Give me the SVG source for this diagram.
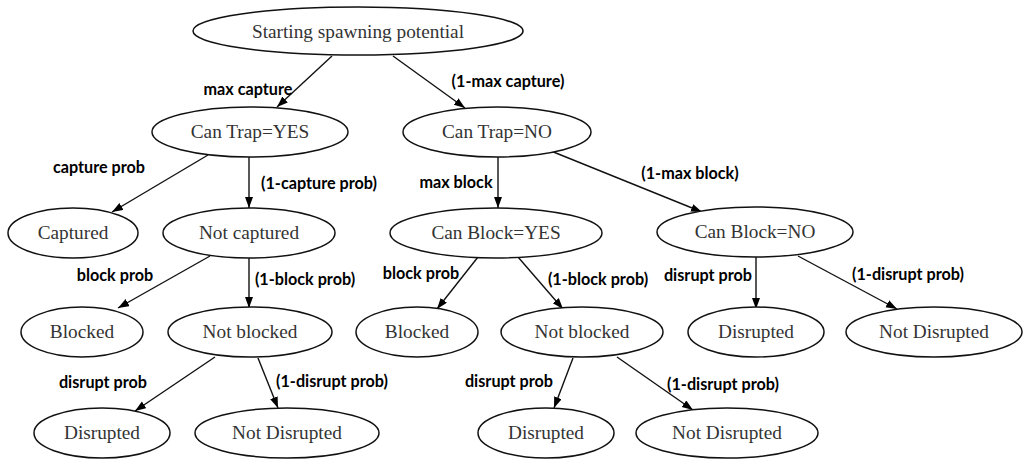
<svg xmlns="http://www.w3.org/2000/svg" width="1031" height="459" viewBox="0 0 1031 459">
<style>
.n ellipse{fill:#fff;stroke:#111;stroke-width:1.5}
.n text{font-family:"Liberation Serif","Times New Roman",serif;font-size:19.3px;fill:#333;text-anchor:middle}
.e line{stroke:#111;stroke-width:1.4;marker-end:url(#ah)}
.l{font-family:Lato,"Liberation Sans",sans-serif;font-weight:bold;font-size:16.2px;fill:#000;text-anchor:middle;dominant-baseline:central}
</style>
<defs>
<marker id="ah" markerUnits="userSpaceOnUse" markerWidth="12" markerHeight="10" refX="11" refY="4" orient="auto">
<path d="M0,0 L11,4 L0,8 z" fill="#000"/>
</marker>
</defs>
<rect width="1031" height="459" fill="#fff"/>
<g class="e" id="edges">
<line x1="332" y1="56" x2="277" y2="107"/>
<line x1="393" y1="56" x2="465" y2="108"/>
<line x1="208" y1="155" x2="112" y2="212"/>
<line x1="249" y1="157" x2="249" y2="208"/>
<line x1="498" y1="157" x2="498" y2="208"/>
<line x1="551" y1="151" x2="702" y2="212"/>
<line x1="210" y1="256" x2="118" y2="308"/>
<line x1="249" y1="258" x2="249" y2="308"/>
<line x1="478" y1="257" x2="437" y2="309"/>
<line x1="518" y1="257" x2="563" y2="309"/>
<line x1="756" y1="257" x2="756" y2="309"/>
<line x1="798" y1="256" x2="897" y2="309"/>
<line x1="215" y1="357" x2="135" y2="411"/>
<line x1="258" y1="358" x2="278" y2="408"/>
<line x1="573" y1="358" x2="554" y2="408"/>
<line x1="617" y1="357" x2="693" y2="410"/>
</g>
<g id="labels">
<text class="l" x="248" y="88">max capture</text>
<text class="l" x="508" y="80">(1-max capture)</text>
<text class="l" x="99" y="166">capture prob</text>
<text class="l" x="319" y="182">(1-capture prob)</text>
<text class="l" x="456" y="181">max block</text>
<text class="l" x="690" y="172">(1-max block)</text>
<text class="l" x="115" y="274">block prob</text>
<text class="l" x="305" y="278">(1-block prob)</text>
<text class="l" x="421" y="272">block prob</text>
<text class="l" x="598" y="278">(1-block prob)</text>
<text class="l" x="708" y="274">disrupt prob</text>
<text class="l" x="908" y="273">(1-disrupt prob)</text>
<text class="l" x="103" y="381">disrupt prob</text>
<text class="l" x="332" y="380">(1-disrupt prob)</text>
<text class="l" x="509" y="380">disrupt prob</text>
<text class="l" x="723" y="383">(1-disrupt prob)</text>
</g>
<g class="n" id="n-root"><ellipse cx="358" cy="31" rx="165" ry="24"/><text x="358" y="38">Starting spawning potential</text></g>
<g class="n" id="n-trapyes"><ellipse cx="250" cy="132" rx="98" ry="25"/><text x="250" y="138">Can Trap=YES</text></g>
<g class="n" id="n-trapno"><ellipse cx="497" cy="132" rx="94" ry="25"/><text x="497" y="138">Can Trap=NO</text></g>
<g class="n" id="n-captured"><ellipse cx="73" cy="233" rx="65" ry="25"/><text x="73" y="239">Captured</text></g>
<g class="n" id="n-notcaptured"><ellipse cx="249" cy="233" rx="86" ry="25"/><text x="249" y="239">Not captured</text></g>
<g class="n" id="n-blockyes"><ellipse cx="496" cy="233" rx="106" ry="25"/><text x="496" y="239">Can Block=YES</text></g>
<g class="n" id="n-blockno"><ellipse cx="755" cy="232" rx="98" ry="25"/><text x="755" y="238">Can Block=NO</text></g>
<g class="n" id="n-blocked1"><ellipse cx="82" cy="332" rx="61" ry="25"/><text x="82" y="338">Blocked</text></g>
<g class="n" id="n-notblocked1"><ellipse cx="250" cy="332" rx="82" ry="25"/><text x="250" y="338">Not blocked</text></g>
<g class="n" id="n-blocked2"><ellipse cx="417" cy="332" rx="61" ry="25"/><text x="417" y="338">Blocked</text></g>
<g class="n" id="n-notblocked2"><ellipse cx="582" cy="332" rx="81" ry="25"/><text x="582" y="338">Not blocked</text></g>
<g class="n" id="n-disrupted3"><ellipse cx="756" cy="332" rx="68" ry="25"/><text x="756" y="338">Disrupted</text></g>
<g class="n" id="n-notdisrupted3"><ellipse cx="934" cy="332" rx="88" ry="25"/><text x="934" y="338">Not Disrupted</text></g>
<g class="n" id="n-disrupted1"><ellipse cx="102" cy="433" rx="68" ry="25"/><text x="102" y="439">Disrupted</text></g>
<g class="n" id="n-notdisrupted1"><ellipse cx="287" cy="433" rx="92" ry="25"/><text x="287" y="439">Not Disrupted</text></g>
<g class="n" id="n-disrupted2"><ellipse cx="546" cy="433" rx="68" ry="25"/><text x="546" y="439">Disrupted</text></g>
<g class="n" id="n-notdisrupted2"><ellipse cx="727" cy="433" rx="91" ry="25"/><text x="727" y="439">Not Disrupted</text></g>
</svg>
